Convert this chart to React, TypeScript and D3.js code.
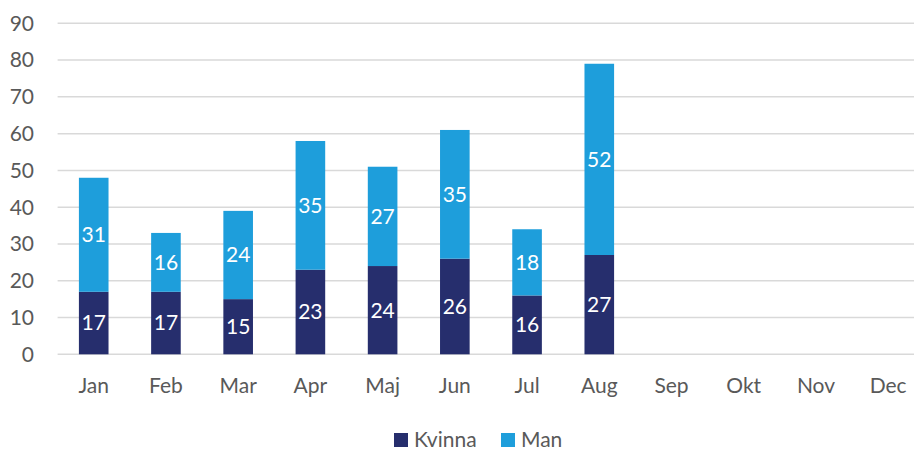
import * as d3 from 'd3';
import React, { useEffect, useRef } from "react";

const months = ['Jan', 'Feb', 'Mar', 'Apr', 'Maj', 'Jun', 'Jul', 'Aug', 'Sep', 'Okt', 'Nov', 'Dec'];
const kvinna = [17, 17, 15, 23, 24, 26, 16, 27];
const man = [31, 16, 24, 35, 27, 35, 18, 52];
const yTicks = [0, 10, 20, 30, 40, 50, 60, 70, 80, 90];
const seriesNames = ['Kvinna', 'Man'];

const W = 914;
const H = 451;
const colors = ['#262e6d', '#1e9edb'];
const FONT = "Lato, 'Noto Sans', sans-serif";
const FS = 21;

const App = () => {
  const ref = useRef<SVGSVGElement>(null);

  useEffect(() => {
    const svg = d3.select(ref.current);
    svg.selectAll('*').remove();

    const x = d3.scaleBand().domain(months).range([57.6, 924.3]).paddingInner(0.59).paddingOuter(0.295);
    const y = d3.scaleLinear().domain([0, 90]).range([354.3, 23.3]);

    // grid
    svg.append('g').selectAll('line').data(yTicks).enter().append('line')
      .attr('x1', 57.6).attr('x2', 924)
      .attr('y1', d => y(d)).attr('y2', d => y(d))
      .attr('stroke', '#d9d9d9').attr('stroke-width', 1.5);

    // y labels
    svg.append('g').selectAll('text').data(yTicks).enter().append('text')
      .attr('x', 34).attr('y', d => y(d)).attr('dy', '0.35em')
      .attr('text-anchor', 'end')
      .attr('font-family', FONT).attr('font-size', FS).attr('fill', '#595959')
      .text(d => d);

    // x labels
    svg.append('g').selectAll('text').data(months).enter().append('text')
      .attr('x', d => (x(d) as number) + x.bandwidth() / 2).attr('y', 386).attr('dy', '0.35em')
      .attr('text-anchor', 'middle')
      .attr('font-family', FONT).attr('font-size', FS).attr('fill', '#595959')
      .text(d => d);

    const data = kvinna.map((k, i) => ({ month: months[i], k, m: man[i] }));
    const stack = d3.stack<any>().keys(['k', 'm'])(data);

    stack.forEach((layer, si) => {
      const g = svg.append('g');
      g.selectAll('rect').data(layer).enter().append('rect')
        .attr('x', d => x(d.data.month) as number)
        .attr('width', x.bandwidth())
        .attr('y', d => y(d[1]))
        .attr('height', d => y(d[0]) - y(d[1]))
        .attr('fill', colors[si]);
      g.selectAll('text').data(layer).enter().append('text')
        .attr('x', d => (x(d.data.month) as number) + x.bandwidth() / 2)
        .attr('y', d => (y(d[0]) + y(d[1])) / 2).attr('dy', '0.35em')
        .attr('text-anchor', 'middle')
        .attr('font-family', FONT).attr('font-size', FS).attr('fill', '#ffffff')
        .text(d => d[1] - d[0]);
    });

    // legend
    const legendX = [394, 501];
    seriesNames.forEach((name, i) => {
      svg.append('rect').attr('x', legendX[i]).attr('y', 433).attr('width', 14).attr('height', 14).attr('fill', colors[i]);
      svg.append('text').attr('x', legendX[i] + 20).attr('y', 440).attr('dy', '0.35em')
        .attr('font-family', FONT).attr('font-size', FS).attr('fill', '#595959')
        .text(name);
    });
  }, []);

  return (
    <svg ref={ref} width={W} height={H} style={{ position: 'absolute', left: 0, top: 0, background: '#fff' }} />
  );
};

export default App;
